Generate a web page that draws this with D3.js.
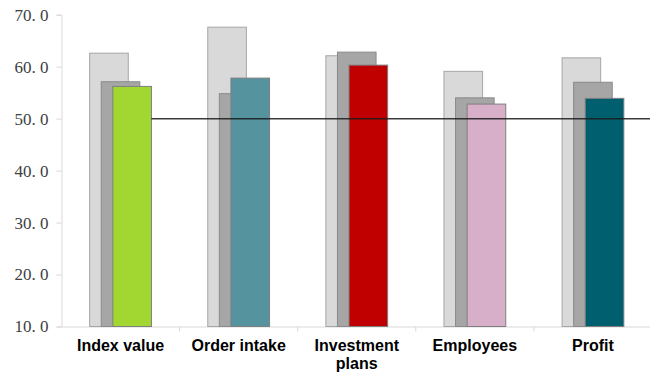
<!DOCTYPE html>
<html>
<head>
<meta charset="utf-8">
<script src="https://cdn.jsdelivr.net/npm/d3@7/dist/d3.min.js"></script>
<style>
  html, body { margin: 0; padding: 0; background: #fff; }
  svg { display: block; }
</style>
</head>
<body>
<svg id="chart" width="650" height="376"></svg>
<script>
// Survey indicators: three successive readings per category
const categories = ["Index value", "Order intake", "Investment plans", "Employees", "Profit"];
const earlier   = [62.6, 67.6, 62.1, 59.1, 61.7];
const previous  = [57.1, 54.8, 62.8, 54.0, 57.0];
const current   = [56.2, 57.8, 60.3, 52.8, 53.9];
const currentColors = ["#a2d630", "#55939f", "#c00000", "#d7afc9", "#005f6f"];
const yTicks = [10, 20, 30, 40, 50, 60, 70];
const threshold = 50;

const svg = d3.select("#chart");
const margin = { top: 15, right: -2, bottom: 50, left: 61.5 };
const W = 650, H = 376;

const x = d3.scaleBand()
  .domain(categories)
  .range([margin.left, W - margin.right])
  .paddingInner(0).paddingOuter(0);

const y = d3.scaleLinear()
  .domain([10, 70])
  .range([326.5, 14.7]);

const barW = x.bandwidth() * 0.327;
const step = barW * 0.3;

// y axis
const yAxis = svg.append("g")
  .attr("transform", `translate(${margin.left},0)`)
  .call(d3.axisLeft(y).tickValues(yTicks).tickSize(5).tickPadding(8)
    .tickFormat(d => d3.format(".1f")(d).replace(".", ". ")));
yAxis.select(".domain").attr("stroke", "#d9d9d9");
yAxis.selectAll(".tick line").attr("stroke", "#d9d9d9");
yAxis.selectAll(".tick text")
  .attr("font-family", "'Liberation Serif', 'DejaVu Serif', serif")
  .attr("font-size", 17)
  .attr("fill", "#404040")
  .style("white-space", "pre");

// x axis baseline with ticks at the category boundaries
const xAxis = svg.append("g")
  .attr("transform", `translate(0,${y(10)})`)
  .call(d3.axisBottom(x).tickSize(0).tickFormat(""));
xAxis.select(".domain").attr("stroke", "#d9d9d9");
xAxis.selectAll(".tick").remove();
xAxis.selectAll("line.bound")
  .data(categories.slice(1))
  .enter().append("line")
  .attr("class", "bound")
  .attr("x1", d => x(d)).attr("x2", d => x(d))
  .attr("y1", 0).attr("y2", 5)
  .attr("stroke", "#d9d9d9");

const center = d => x(d) + x.bandwidth() / 2;

function drawSeries(values, fill, stroke, offset) {
  svg.append("g").selectAll("rect")
    .data(categories)
    .enter().append("rect")
    .attr("x", d => center(d) + offset - barW / 2)
    .attr("width", barW)
    .attr("y", (d, i) => y(values[i]))
    .attr("height", (d, i) => y(10) - y(values[i]))
    .attr("fill", typeof fill === "function" ? (d, i) => fill(i) : fill)
    .attr("stroke", stroke)
    .attr("stroke-width", 1);
}

drawSeries(earlier, "#d9d9d9", "#a6a6a6", -step);
drawSeries(previous, "#a6a6a6", "#8a8a8a", 0);
drawSeries(current, i => currentColors[i], "#7f7f7f", step);

// 50-point reference line
const lineStart = center(categories[0]) + step + barW / 2;
svg.append("line")
  .attr("x1", lineStart)
  .attr("x2", W)
  .attr("y1", y(threshold))
  .attr("y2", y(threshold))
  .attr("stroke", "#1a1a1a")
  .attr("stroke-opacity", 0.85)
  .attr("stroke-width", 1.5);

// category labels
const labelLines = {
  "Investment plans": ["Investment", "plans"]
};
const labels = svg.append("g")
  .attr("font-family", "'Liberation Sans', Arial, sans-serif")
  .attr("font-weight", "bold")
  .attr("font-size", 16)
  .attr("fill", "#000")
  .attr("text-anchor", "middle");
categories.forEach(c => {
  const lines = labelLines[c] || [c];
  const t = labels.append("text").attr("x", center(c)).attr("y", 351);
  lines.forEach((ln, k) => {
    t.append("tspan").attr("x", center(c)).attr("dy", k === 0 ? 0 : 18).text(ln);
  });
});
</script>
</body>
</html>
